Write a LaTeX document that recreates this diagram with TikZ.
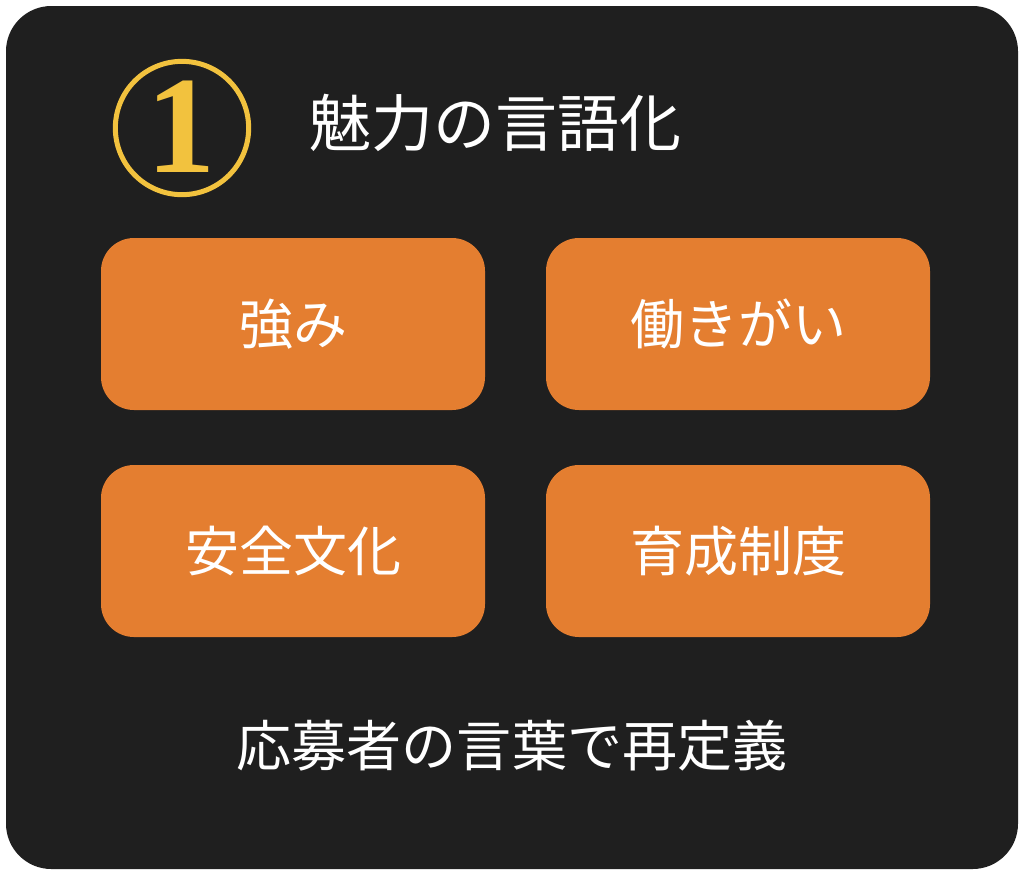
\documentclass[tikz,border=0pt]{standalone}
\usepackage{fontspec}
\setmainfont{Noto Sans CJK JP}
\newfontfamily\digitfont{Liberation Serif}
\usepackage{xcolor}
\definecolor{panelbg}{HTML}{1F1F1F}
\definecolor{boxorange}{HTML}{E47E30}
\definecolor{numyellow}{HTML}{F2C23E}

\tikzset{
  charmbox/.style={fill=boxorange, rounded corners=24.75pt, minimum width=288pt,
    minimum height=129pt, text=white, font=\fontsize{40.5}{40.5}\selectfont, inner sep=0pt},
}

\begin{document}
\begin{tikzpicture}[x=0.75pt,y=-0.75pt]
		\useasboundingbox (0,0) rectangle (1024,876);
		\fill[white](0,0) rectangle (1024,876);
		\fill[panelbg, rounded corners=34pt](6,6) rectangle (1018,869);
		\node[circle, draw=numyellow, line width=3.75pt, minimum size=100pt, inner sep=0pt](num) at (182,128){};
		\node[text=numyellow, font=\digitfont\bfseries\fontsize{104}{104}\selectfont] (numdigit) at (181,127){1};
		\node[anchor=west, text=white, font=\fontsize{46.5}{46.5}\selectfont, inner sep=0pt](title) at (309,123){魅力の言語化};
		\node[charmbox](strength) at (293,324){強み};
		\node[charmbox](worth) at (738,324){働きがい};
		\node[charmbox](safety) at (293,551){安全文化};
		\node[charmbox](training) at (738,551){育成制度};
		\node[text=white, font=\fontsize{41.3}{41.3}\selectfont, inner sep=0pt](redefine) at (512,746){応募者の言葉で再定義};
		\end{tikzpicture}
\end{document}
